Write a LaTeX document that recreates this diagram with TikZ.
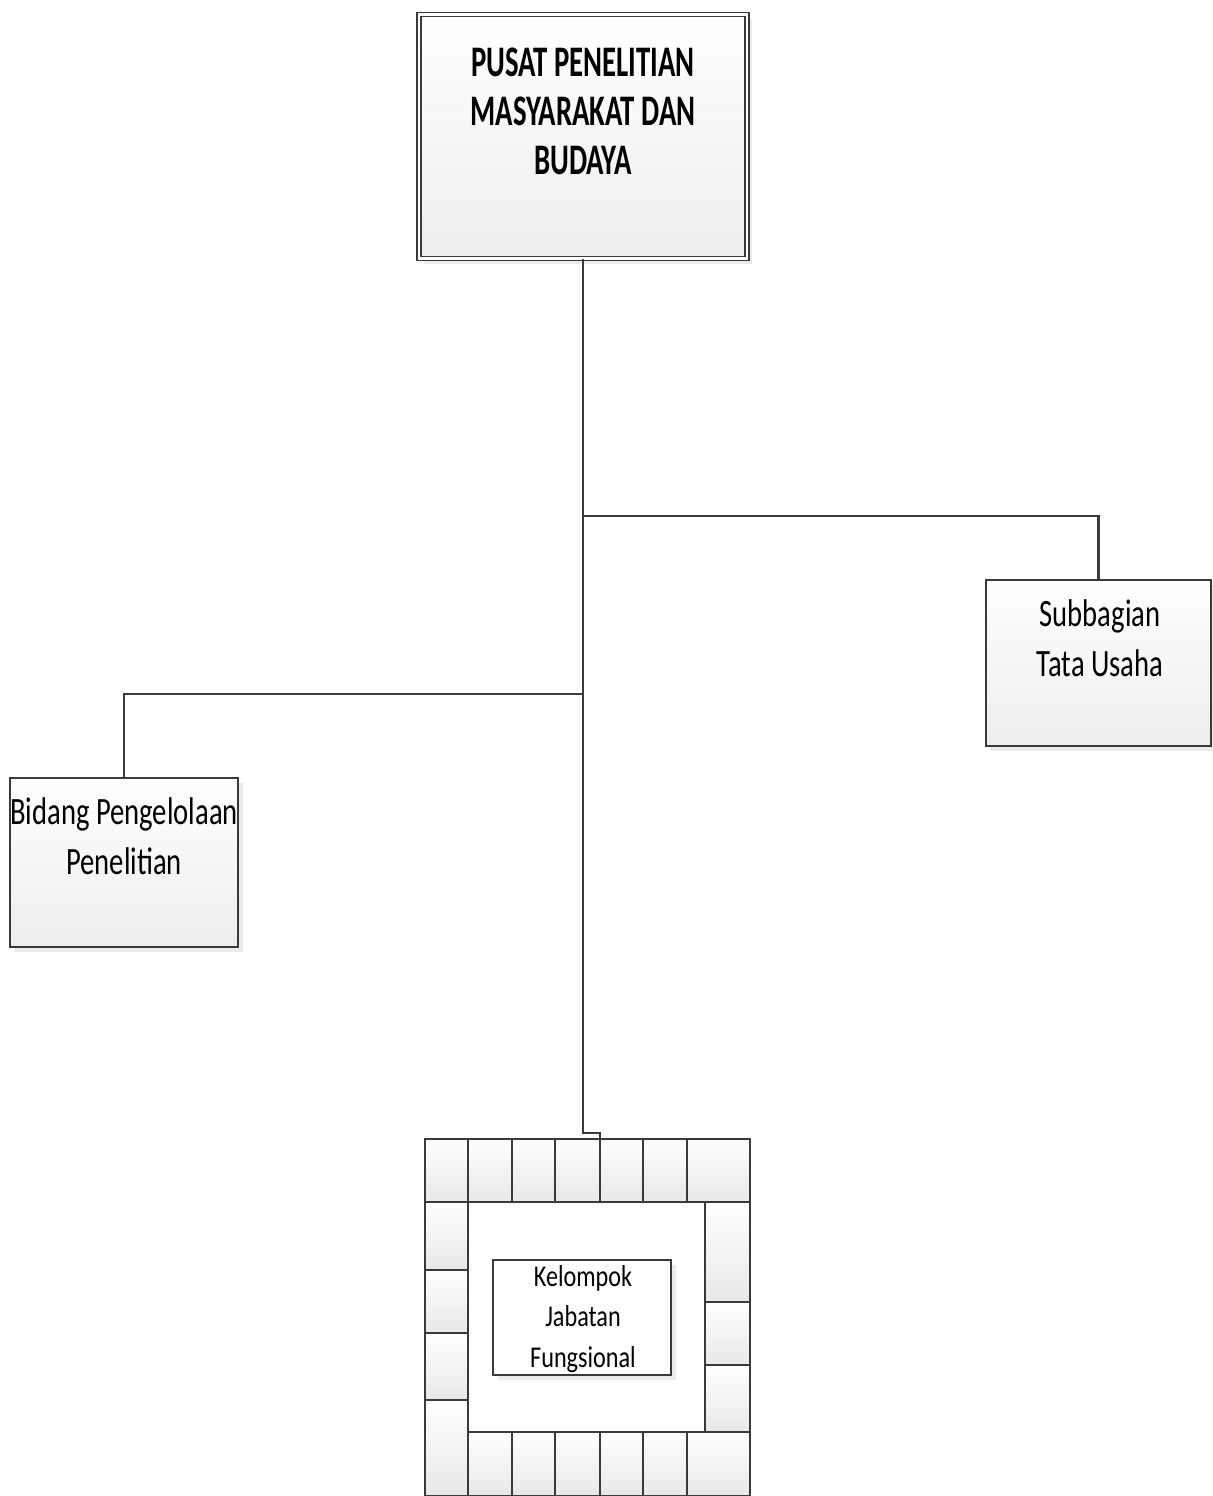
\documentclass[tikz,border=0pt]{standalone}
\usepackage{fontspec}
\newfontfamily\labelfont[FakeStretch=0.74]{Carlito}
\newfontfamily\groupfont[FakeStretch=0.80]{Carlito}
\newfontfamily\headfont[FakeStretch=0.66]{Carlito}
\usetikzlibrary{shadows}
\definecolor{linegray}{HTML}{3A3A3A}
\tikzset{
  x=0.01cm, y=-0.01cm,
  wire/.style={draw=linegray, line width=0.65pt},
  orgbox/.style={draw=linegray, line width=0.65pt, inner sep=0pt,
    top color=white, bottom color=black!7,
    drop shadow={shadow xshift=0.05cm, shadow yshift=-0.05cm, fill=black!16}},
  headbox/.style={orgbox, double=white, double distance=0.022cm, line width=0.5pt},
  cell/.style={draw=linegray, line width=0.65pt, top color=white, bottom color=black!9},
  headtext/.style={font=\headfont\bfseries\fontsize{12.4}{13.9}\selectfont, align=center, inner sep=0pt},
  unittext/.style={font=\labelfont\fontsize{11}{14.1}\selectfont, align=center, inner sep=0pt},
  grouptext/.style={font=\groupfont\fontsize{8.6}{11.6}\selectfont, align=center, inner sep=0pt},
}
\begin{document}
\begin{tikzpicture}
\fill[white] (0,0) rectangle (1213,1496);
\useasboundingbox (0,0) rectangle (1213,1496);

% head of the centre
\node[headbox, minimum width=3.285cm, minimum height=2.44cm] (pusat) at (583,136.5) {};
\node[headtext, anchor=north] (pusatlbl) at (583,47) {PUSAT PENELITIAN\\MASYARAKAT DAN\\BUDAYA};

% units
\node[orgbox, minimum width=2.25cm, minimum height=1.66cm] (subbag) at (1098.5,663) {};
\node[unittext, anchor=north] (subbaglbl) at (1100,599) {Subbagian\\Tata Usaha};

\node[orgbox, minimum width=2.28cm, minimum height=1.69cm] (bidang) at (124,862.5) {};
\node[unittext, anchor=north] (bidanglbl) at (124,797) {Bidang Pengelolaan\\Penelitian};

% functional group: frame of cells around the central box
\foreach \xa/\xb in {425/468,468/512,512/555,555/600,600/643,643/687,687/750}
  \draw[cell] (\xa,1139) rectangle (\xb,1202);
\foreach \xa/\xb in {468/512,512/555,555/600,600/643,643/687,687/750}
  \draw[cell] (\xa,1432) rectangle (\xb,1496);
\foreach \ya/\yb in {1202/1270,1270/1333,1333/1400,1400/1496}
  \draw[cell] (425,\ya) rectangle (468,\yb);
\foreach \ya/\yb in {1202/1302,1302/1365,1365/1432}
  \draw[cell] (705,\ya) rectangle (750,\yb);

\node[draw=linegray, line width=0.65pt, fill=white, inner sep=0pt,
  minimum width=1.78cm, minimum height=1.15cm,
  drop shadow={shadow xshift=0.05cm, shadow yshift=-0.05cm, fill=black!14}]
  (kelompok) at (582,1317.5) {};
\node[grouptext] (kelompoklbl) at (583,1319) {Kelompok\\Jabatan\\Fungsional};

% connectors
\coordinate (gridtop) at (600,1139);
\coordinate (jright) at (583,516);
\coordinate (jleft) at (583,694);
\coordinate (jbend) at (583,1133);
\draw[wire] (pusat.south) -- (jbend) -| (gridtop);
\draw[wire] (jright) -| (subbag.north);
\draw[wire] (jleft) -| (bidang.north);
\end{tikzpicture}
\end{document}
